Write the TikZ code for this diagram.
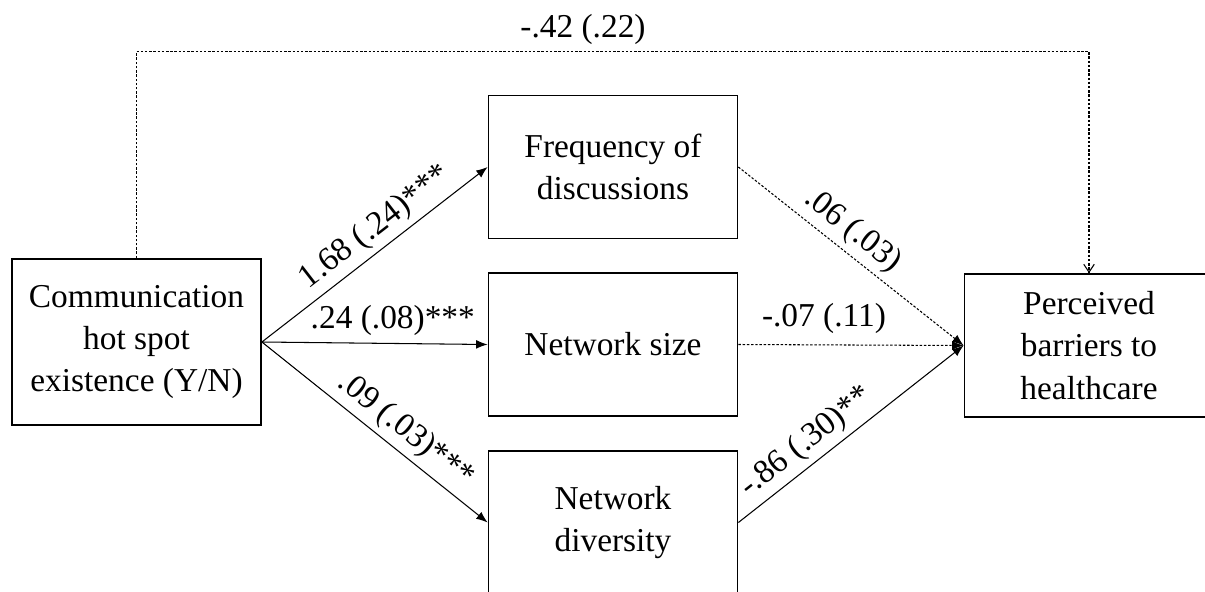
\documentclass[tikz,border=0pt]{standalone}
\usepackage{fontspec}
\setmainfont{Liberation Serif}
\usetikzlibrary{arrows.meta, positioning}

\begin{document}
\begin{tikzpicture}[font=\fontsize{19}{24.1}\selectfont,
        box/.style={draw, line width=1pt, minimum width=4.98cm, minimum height=2.86cm, align=center, inner sep=0pt},
        solidarr/.style={line width=0.6pt, -{Latex[length=6.5pt, width=5pt]}},
        dasharr/.style={solidarr, dash pattern=on 1.4pt off 1pt},
        coef/.style={inner sep=1pt}]
        \useasboundingbox (0,0) rectangle (24.1,11.82);

        \node[box, minimum height=3.32cm] (comm) at (2.73,4.98) {Communication\\hot spot\\existence (Y/N)};
        \node[box] (freq) at (12.26,8.48) {Frequency of\\discussions};
        \node[box] (size) at (12.26,4.93) {Network size};
        \node[box] (div) at (12.26,1.37) {Network\\diversity};
        \node[box] (barr) at (21.78,4.91) {Perceived\\barriers to\\healthcare};

        \draw[solidarr] (comm.east) to node[coef, above=2pt, sloped, pos=0.56] {1.68 (.24)***} (freq.west);
        \draw[solidarr] (comm.east) to node[coef, above=3pt, pos=0.58] {.24 (.08)***} (size.west);
        \draw[solidarr] (comm.east) to node[coef, above=2pt, sloped, pos=0.58] {.09 (.03)***} (div.west);

        \draw[dasharr] (freq.east) to node[coef, above=2pt, sloped, pos=0.45] {.06 (.03)} (barr.west);
        \draw[dasharr] (size.east) to node[coef, above=5pt, pos=0.38] {-.07 (.11)} (barr.west);
        \draw[solidarr] (div.east) to node[coef, above=2pt, sloped, pos=0.36] {-.86 (.30)**} (barr.west);

        \coordinate (top) at (11.66,10.79);
        \draw[line width=0.6pt, dash pattern=on 1.4pt off 1pt, -{Straight Barb[length=4.5pt, width=6pt]}] (comm.north) |- (top) node[coef, above=2.5pt] {-.42 (.22)} -| (barr.north);
\end{tikzpicture}
\end{document}
